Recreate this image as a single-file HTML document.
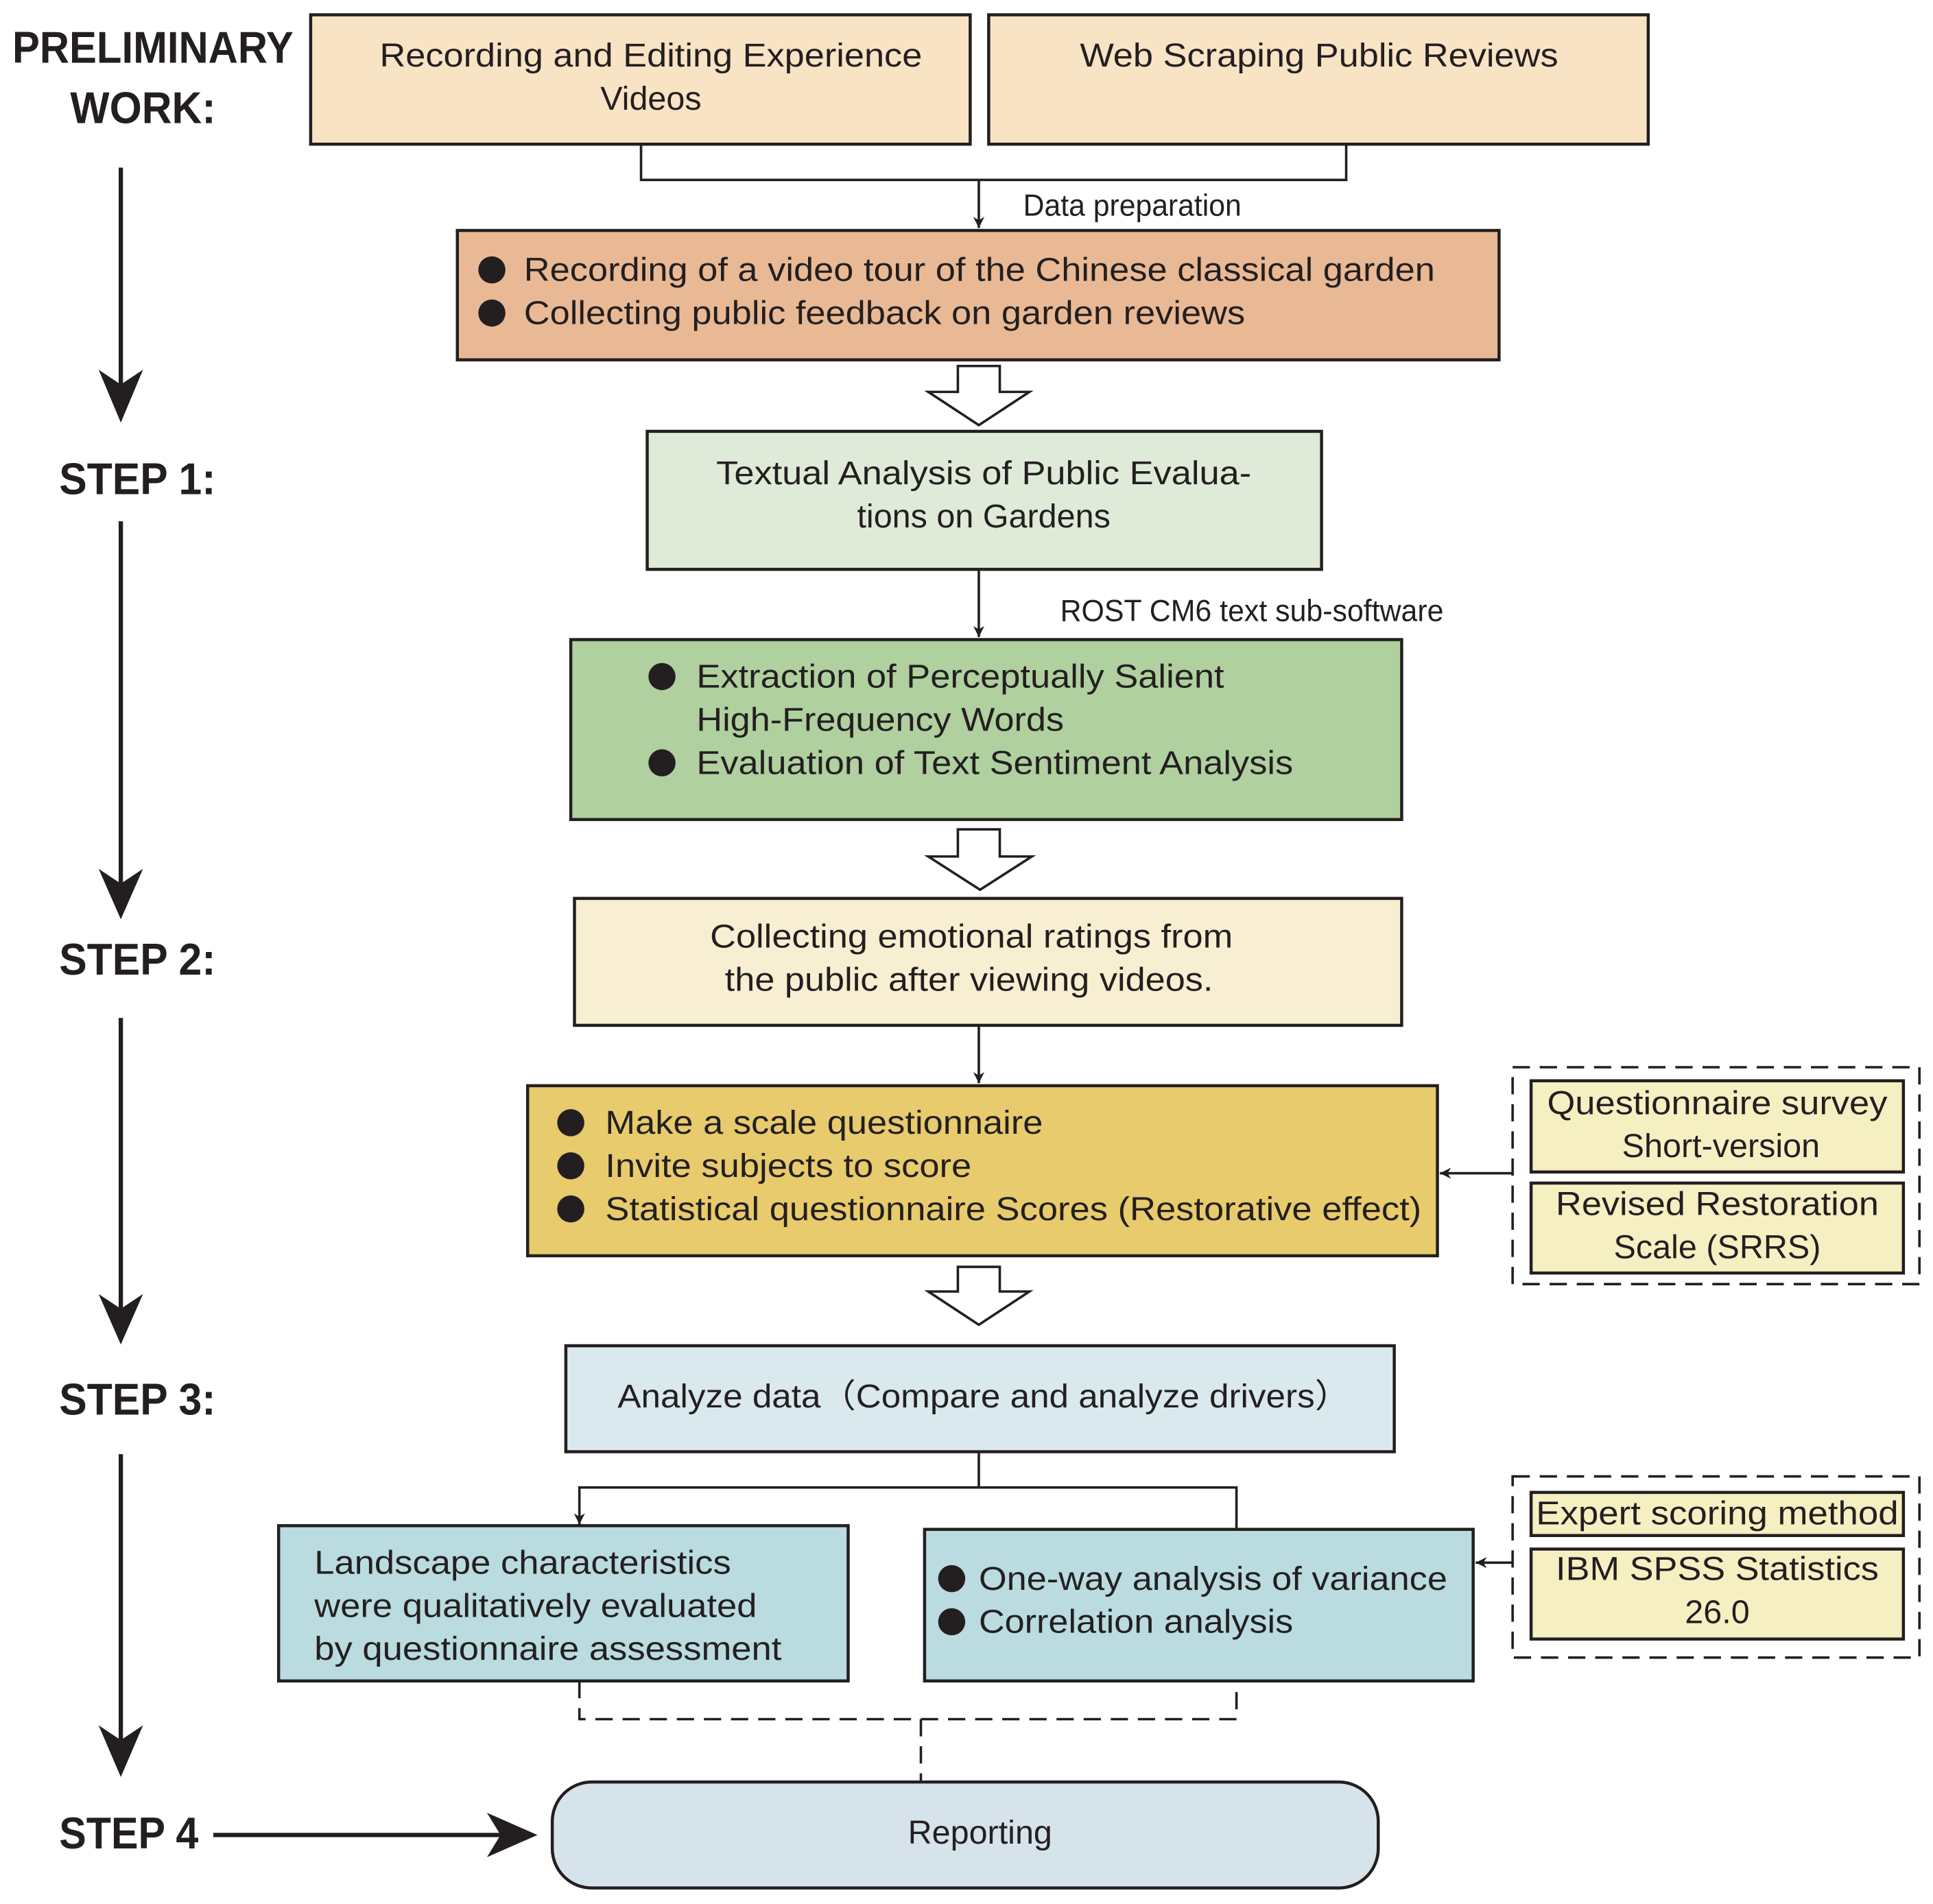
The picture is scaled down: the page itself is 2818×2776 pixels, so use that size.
<!DOCTYPE html>
<html><head><meta charset="utf-8"><style>html,body{margin:0;padding:0;background:#fff}svg{display:block}</style></head>
<body>
<svg width="2818" height="2776" viewBox="0 0 1568 1545" preserveAspectRatio="none" xmlns="http://www.w3.org/2000/svg" font-family="Liberation Sans, Arial, sans-serif" fill="#231f20">
<defs>
<marker id="a" viewBox="0 0 10 10" refX="10" refY="5" markerWidth="9" markerHeight="9" markerUnits="userSpaceOnUse" orient="auto"><path d="M0,0 L10,5 L0,10 L3,5 z" fill="#231f20"/></marker>
</defs>
<g stroke="#231f20" stroke-width="2.5">
<rect x="252" y="12" width="535" height="105" fill="#f8e3c4"/>
<rect x="802" y="12" width="535" height="105" fill="#f8e3c4"/>
<rect x="371" y="187" width="845" height="105" fill="#e9b995"/>
<rect x="525" y="350" width="547" height="112" fill="#dfead8"/>
<rect x="463" y="519" width="674" height="146" fill="#b0d09f"/>
<rect x="466" y="729" width="671" height="103" fill="#f8efd2"/>
<rect x="428" y="881" width="738" height="138" fill="#e8cb6c"/>
<rect x="459" y="1092" width="672" height="86" fill="#d9e9ed"/>
<rect x="226" y="1238" width="462" height="126" fill="#badbe0"/>
<rect x="750" y="1241" width="445" height="123" fill="#badbe0"/>
<rect x="448" y="1446" width="670" height="86" rx="32" fill="#d7e3eb"/>
<rect x="1242" y="877" width="302" height="74" fill="#f6efc2"/>
<rect x="1242" y="960" width="302" height="73" fill="#f6efc2"/>
<rect x="1242" y="1211" width="302" height="35" fill="#f6efc2"/>
<rect x="1242" y="1257" width="302" height="73" fill="#f6efc2"/>
</g>
<g fill="none" stroke="#231f20" stroke-width="2">
<rect x="1227" y="866" width="330" height="176" stroke-dasharray="14,8"/>
<rect x="1227" y="1198" width="330" height="147" stroke-dasharray="14,8"/>
<path d="M520,117 V146 H1092 V117"/>
<path d="M794,146 V185" marker-end="url(#a)"/>
<path d="M794,462 V517" marker-end="url(#a)"/>
<path d="M794,832 V879" marker-end="url(#a)"/>
<path d="M1227,952 H1168" marker-end="url(#a)"/>
<path d="M1227,1268 H1197" marker-end="url(#a)"/>
<path d="M794,1178 V1207 H1003 V1241"/>
<path d="M794,1207 H470 V1237" marker-end="url(#a)"/>
<path d="M470,1364 V1395 H1003 V1364" stroke-dasharray="14,8"/>
<path d="M747,1395 V1445" stroke-dasharray="14,8"/>
</g>
<g fill="#fff" stroke="#231f20" stroke-width="2">
<path d="M777,297 H811 V318 H835 L794,345 L753,318 H777 Z"/>
<path d="M777,673 H811 V695 H837 L795,722 L753,695 H777 Z"/>
<path d="M777,1028 H811 V1048 H835 L794,1075 L753,1048 H777 Z"/>
</g>
<g stroke="#231f20" stroke-width="3.5">
<line x1="98" y1="136" x2="98" y2="315"/>
<line x1="98" y1="423" x2="98" y2="720"/>
<line x1="98" y1="826" x2="98" y2="1065"/>
<line x1="98" y1="1180" x2="98" y2="1418"/>
<line x1="173" y1="1489" x2="410" y2="1489"/>
</g>
<g fill="#231f20">
<path d="M80,300 L98,343 L116,300 L98,312 Z"/>
<path d="M80,705 L98,746 L116,705 L98,717 Z"/>
<path d="M80,1050 L98,1091 L116,1050 L98,1062 Z"/>
<path d="M80,1400 L98,1442 L116,1400 L98,1412 Z"/>
<path d="M395,1471 L436,1489 L395,1507 L406,1489 Z"/>
<circle cx="399" cy="219" r="11"/><circle cx="399" cy="254" r="11"/>
<circle cx="537" cy="549" r="11"/><circle cx="537" cy="619" r="11"/>
<circle cx="463" cy="911" r="11"/><circle cx="463" cy="946" r="11"/><circle cx="463" cy="981" r="11"/>
<circle cx="772" cy="1281" r="11"/><circle cx="772" cy="1316" r="11"/>
</g>
<g font-weight="bold" font-size="36" lengthAdjust="spacingAndGlyphs">
<text x="10" y="51" textLength="228" lengthAdjust="spacingAndGlyphs">PRELIMINARY</text>
<text x="57" y="100" textLength="118" lengthAdjust="spacingAndGlyphs">WORK:</text>
<text x="48" y="401" textLength="127" lengthAdjust="spacingAndGlyphs">STEP 1:</text>
<text x="48" y="791" textLength="127" lengthAdjust="spacingAndGlyphs">STEP 2:</text>
<text x="48" y="1148" textLength="127" lengthAdjust="spacingAndGlyphs">STEP 3:</text>
<text x="48" y="1500" textLength="113" lengthAdjust="spacingAndGlyphs">STEP 4</text>
</g>
<g font-size="27">
<g text-anchor="middle">
<text x="528" y="54" textLength="440" lengthAdjust="spacingAndGlyphs">Recording and Editing Experience</text>
<text x="528" y="89">Videos</text>
<text x="1070" y="54" textLength="388" lengthAdjust="spacingAndGlyphs">Web Scraping Public Reviews</text>
<text x="798" y="393" textLength="434" lengthAdjust="spacingAndGlyphs">Textual Analysis of Public Evalua-</text>
<text x="798" y="428">tions on Gardens</text>
<text x="788" y="769" textLength="424" lengthAdjust="spacingAndGlyphs">Collecting emotional ratings from</text>
<text x="786" y="804" textLength="396" lengthAdjust="spacingAndGlyphs">the public after viewing videos.</text>
<text x="798" y="1142" textLength="594" lengthAdjust="spacingAndGlyphs">Analyze data（Compare and analyze drivers）</text>
<text x="795" y="1496">Reporting</text>
<text x="1393" y="904" textLength="276" lengthAdjust="spacingAndGlyphs">Questionnaire survey</text>
<text x="1396" y="939">Short-version</text>
<text x="1393" y="986" textLength="262" lengthAdjust="spacingAndGlyphs">Revised Restoration</text>
<text x="1393" y="1021">Scale (SRRS)</text>
<text x="1393" y="1237" textLength="294" lengthAdjust="spacingAndGlyphs">Expert scoring method</text>
<text x="1393" y="1282" textLength="262" lengthAdjust="spacingAndGlyphs">IBM SPSS Statistics</text>
<text x="1393" y="1317">26.0</text>
</g>
<text x="425" y="228" textLength="739" lengthAdjust="spacingAndGlyphs">Recording of a video tour of the Chinese classical garden</text>
<text x="425" y="263" textLength="585" lengthAdjust="spacingAndGlyphs">Collecting public feedback on garden reviews</text>
<text x="565" y="558" textLength="428" lengthAdjust="spacingAndGlyphs">Extraction of Perceptually Salient</text>
<text x="565" y="593" textLength="298" lengthAdjust="spacingAndGlyphs">High-Frequency Words</text>
<text x="565" y="628" textLength="484" lengthAdjust="spacingAndGlyphs">Evaluation of Text Sentiment Analysis</text>
<text x="491" y="920" textLength="355" lengthAdjust="spacingAndGlyphs">Make a scale questionnaire</text>
<text x="491" y="955" textLength="297" lengthAdjust="spacingAndGlyphs">Invite subjects to score</text>
<text x="491" y="990" textLength="662" lengthAdjust="spacingAndGlyphs">Statistical questionnaire Scores (Restorative effect)</text>
<text x="255" y="1277" textLength="338" lengthAdjust="spacingAndGlyphs">Landscape characteristics</text>
<text x="255" y="1312" textLength="359" lengthAdjust="spacingAndGlyphs">were qualitatively evaluated</text>
<text x="255" y="1347" textLength="379" lengthAdjust="spacingAndGlyphs">by questionnaire assessment</text>
<text x="794" y="1290" textLength="380" lengthAdjust="spacingAndGlyphs">One-way analysis of variance</text>
<text x="794" y="1325" textLength="255" lengthAdjust="spacingAndGlyphs">Correlation analysis</text>
</g>
<g font-size="25">
<text x="830" y="175" textLength="177" lengthAdjust="spacingAndGlyphs">Data preparation</text>
<text x="860" y="504" textLength="311" lengthAdjust="spacingAndGlyphs">ROST CM6 text sub-software</text>
</g>
</svg>
</body></html>
